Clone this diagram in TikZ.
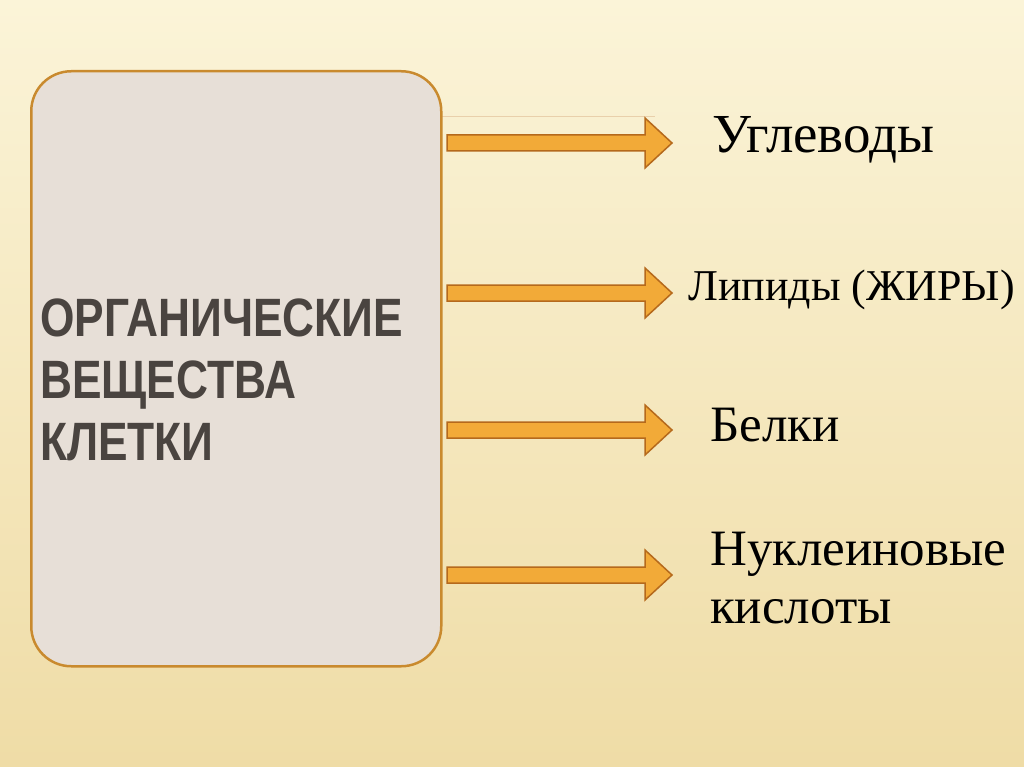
\documentclass[tikz,border=0pt]{standalone}
\usepackage{fontspec}
\setmainfont{Liberation Serif}
\newfontfamily\titlefont{Liberation Sans}
\definecolor{bgtop}{HTML}{FBF4D8}
\definecolor{bgbot}{HTML}{EFDCA6}
\definecolor{boxfill}{HTML}{E7DFD7}
\definecolor{boxline}{HTML}{C98A2E}
\definecolor{arrfill}{HTML}{F2AA38}
\definecolor{arrline}{HTML}{B5691C}
\definecolor{titlecol}{HTML}{4A4440}
\tikzset{
  arrstyle/.style={draw=arrline, fill=arrfill, line width=1.5pt, line join=miter},
  label/.style={anchor=west, inner sep=0pt, text=black, align=left},
  pics/blockarr/.style={code={
    \path[arrstyle] (0,-8) -- (198,-8) -- (198,-25) -- (225,0) -- (198,25) -- (198,8) -- (0,8) -- cycle;}}
}
\begin{document}
\begin{tikzpicture}[x=1pt,y=-1pt]
\shade[top color=bgtop, bottom color=bgbot] (0,0) rectangle (1024,767);
\useasboundingbox (0,0) rectangle (1024,767);
\draw[boxline!40, line width=1pt] (440,117) -- (655,117);
\node (box) [draw=boxline, fill=boxfill, line width=2.5pt, rounded corners=40pt,
  minimum width=410pt, minimum height=595pt, anchor=north west] at (30,70) {};
\node (title) [anchor=west, align=left, inner sep=0pt, font=\titlefont\bfseries\fontsize{54}{62}\selectfont, text=titlecol] at (40,380)
  {\scalebox{0.82}[1]{ОРГАНИЧЕСКИЕ}\\\scalebox{0.82}[1]{ВЕЩЕСТВА}\\\scalebox{0.82}[1]{КЛЕТКИ}};
\pic (a1) at (447,143) {blockarr};
\pic (a2) at (447,293) {blockarr};
\pic (a3) at (447,430) {blockarr};
\pic (a4) at (447,575) {blockarr};
\node (t1) [label, font=\fontsize{55}{60}\selectfont] at (712,140) {Углеводы};
\node (t2) [label, font=\fontsize{44}{50}\selectfont] at (688,290) {Липиды (ЖИРЫ)};
\node (t3) [label, font=\fontsize{51}{56}\selectfont] at (710,425) {Белки};
\node (t4) [label, font=\fontsize{51}{58}\selectfont] at (710,578) {Нуклеиновые\\кислоты};
\end{tikzpicture}
\end{document}
